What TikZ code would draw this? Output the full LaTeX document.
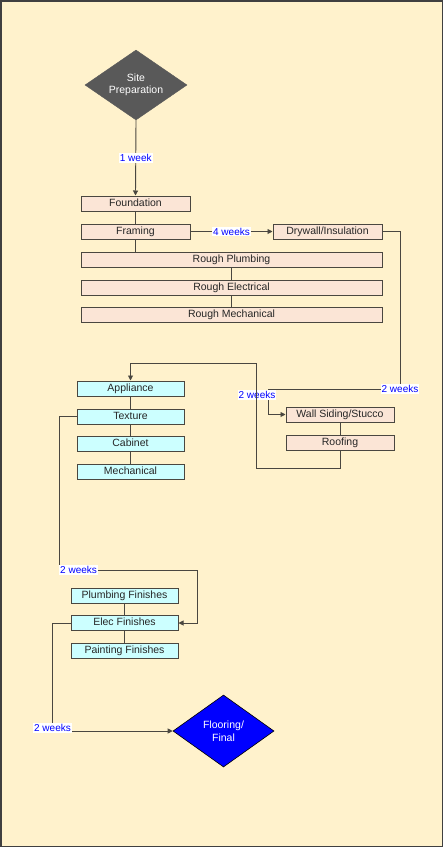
\documentclass[tikz,border=0pt]{standalone}
\usepackage{fontspec}
\setmainfont{Liberation Sans}
\usetikzlibrary{shapes.geometric,arrows.meta}
\definecolor{bgc}{HTML}{FFF2CC}
\definecolor{peach}{HTML}{FBE5D6}
\definecolor{cyanbox}{HTML}{CCFFFF}
\definecolor{linec}{HTML}{4A4740}
\definecolor{darkd}{HTML}{595959}
\tikzset{
  box/.style={draw=linec, line width=1pt, inner sep=0pt, minimum height=15pt, text height=7.6pt, text depth=2pt, font=\fontsize{10.5}{11}\selectfont, text=black!85},
  pbox/.style={box, fill=peach},
  cbox/.style={box, fill=cyanbox},
  dia/.style={diamond, aspect=1.45, inner sep=0pt, align=center, font=\fontsize{10.5}{12.5}\selectfont, text=white},
  conn/.style={draw=linec, line width=0.9pt},
  arr/.style={conn, -{Triangle[length=5pt,width=5pt]}},
  lbl/.style={fill=white, text=blue, inner sep=1pt, font=\fontsize{10}{10}\selectfont}
}
\begin{document}
\begin{tikzpicture}[x=1pt,y=-1pt]
\useasboundingbox (0,0) rectangle (443,847);
\fill[bgc] (0,0) rectangle (443,847);
\draw[line width=1.5pt, draw=black!75] (0.75,0.75) rectangle (442.25,846.25);

% nodes
\node[dia, fill=darkd, draw=darkd, minimum width=102pt, minimum height=70pt] (site) at (136,85) {Site\\Preparation};
\node[pbox, minimum width=109pt] (found) at (135.5,203.5) {Foundation};
\node[pbox, minimum width=109pt] (fram) at (135.5,231.5) {Framing};
\node[pbox, minimum width=109pt] (dry) at (327.5,231.5) {Drywall/Insulation};
\node[pbox, minimum width=301pt] (rplumb) at (231.5,259.5) {Rough Plumbing};
\node[pbox, minimum width=301pt] (relec) at (231.5,287.5) {Rough Electrical};
\node[pbox, minimum width=301pt] (rmech) at (231.5,314.5) {Rough Mechanical};

\node[pbox, minimum width=108pt] (wall) at (340,414.5) {Wall Siding/Stucco};
\node[pbox, minimum width=108pt] (roof) at (340,442.5) {Roofing};

\node[cbox, minimum width=107pt] (appl) at (130.5,388.5) {Appliance};
\node[cbox, minimum width=107pt] (tex) at (130.5,416.5) {Texture};
\node[cbox, minimum width=107pt] (cab) at (130.5,443.5) {Cabinet};
\node[cbox, minimum width=107pt] (mech) at (130.5,471.5) {Mechanical};

\node[cbox, minimum width=107pt] (pfin) at (124.5,595.5) {Plumbing Finishes};
\node[cbox, minimum width=107pt] (efin) at (124.5,623) {Elec Finishes};
\node[cbox, minimum width=107pt] (paint) at (124.5,650.5) {Painting Finishes};

\node[dia, fill=blue, draw=black, line width=0.6pt, minimum width=101pt, minimum height=72pt] (floor) at (223.5,731) {Flooring/\\Final};

% coordinates
\coordinate (c1) at (400,389);
\coordinate (c2) at (268,389);
\coordinate (c3) at (256,468);
\coordinate (c4) at (256,363);
\coordinate (c5) at (59,570);
\coordinate (c6) at (197,570);
\coordinate (c7) at (52,731);

% connectors
\draw[arr] (site.south) -- node[lbl, pos=0.5] {1 week} (found.north);
\draw[conn] (found.south) -- (fram.north);
\draw[conn] (fram.south) -- (fram.south |- rplumb.north);
\draw[conn] (rplumb.south) -- (relec.north);
\draw[conn] (relec.south) -- (rmech.north);
\draw[arr] (fram.east) -- node[lbl, pos=0.5] {4 weeks} (dry.west);
\draw[arr] (dry.east) -| (c1) -- (c2) |- (wall.west);
\node[lbl] (l2a) at (400,389) {2 weeks};
\node[lbl] (l2b) at (257,395) {2 weeks};
\draw[conn] (wall.south) -- (roof.north);
\draw[arr] (roof.south) |- (c3) -- (c4) -| (appl.north);
\draw[conn] (appl.south) -- (tex.north);
\draw[conn] (tex.south) -- (cab.north);
\draw[conn] (cab.south) -- (mech.north);
\draw[arr] (tex.west) -| (c5) -- (c6) |- (efin.east);
\node[lbl, anchor=west] (l2c) at (59,570) {2 weeks};
\draw[conn] (pfin.south) -- (efin.north);
\draw[conn] (efin.south) -- (paint.north);
\draw[arr] (efin.west) -| (c7) -- (floor.west);
\node[lbl] (l2d) at (52.5,728) {2 weeks};
\end{tikzpicture}
\end{document}
